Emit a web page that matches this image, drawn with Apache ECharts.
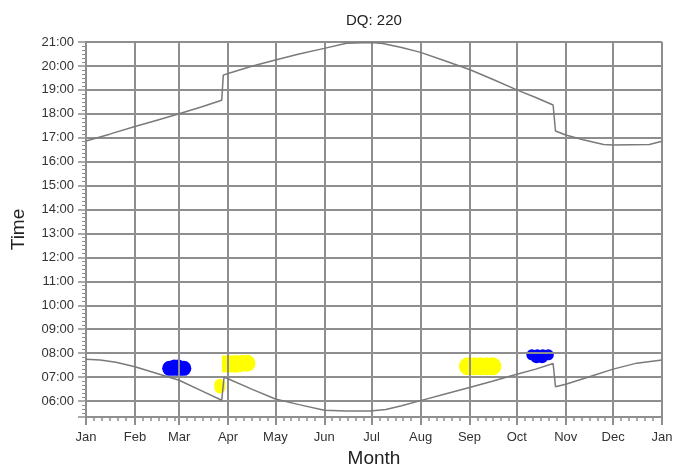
<!DOCTYPE html>
<html><head><meta charset="utf-8">
<script src="https://cdn.jsdelivr.net/npm/echarts@6/dist/echarts.min.js"></script>
<style>html,body{margin:0;padding:0;background:#fff}#c{width:676px;height:473px}</style>
</head><body><div id="c"></div>
<script>
const chartTitle = 'DQ: 220';
const xAxisName = 'Month';
const yAxisName = 'Time';
const monthLabels = ['Jan','Feb','Mar','Apr','May','Jun','Jul','Aug','Sep','Oct','Nov','Dec','Jan'];
const monthStartDays = [0,31,59,90,120,151,181,212,243,273,304,334,365];

// sunset (upper line) — day of year, local time
const sunsetDays  = [0, 15, 31, 45, 59, 73, 86, 87, 90, 105, 120, 135, 151, 165, 181, 188, 200, 212, 226, 243, 258, 273, 285, 296, 297.5, 304, 315, 328, 334, 357, 365];
const sunsetTimes = ['16:52','17:09','17:28','17:44','18:00','18:17','18:34','19:37','19:41','19:59','20:15','20:30','20:44','20:57','20:59','20:56','20:46','20:34','20:15','19:51','19:26','19:00','18:41','18:22','17:17','17:07','16:55','16:43','16:42','16:43','16:51'];

// sunrise (lower line)
const sunriseDays  = [0, 9, 19, 31, 45, 59, 73, 86, 87.5, 90, 105, 120, 135, 151, 165, 180, 190, 200, 212, 227, 243, 258, 273, 285, 296, 297.5, 304, 319, 334, 349, 365];
const sunriseTimes = ['7:45','7:43','7:37','7:26','7:09','6:52','6:26','6:02','7:00','6:56','6:30','6:05','5:51','5:37','5:35','5:35','5:39','5:48','6:01','6:17','6:34','6:50','7:07','7:20','7:34','6:36','6:42','7:01','7:20','7:35','7:43'];

// glare spots (blue)
const blueMarDays  = [53, 56, 59, 62];
const blueMarTimes = ['7:22','7:22','7:22','7:22'];
const blueMarTopDays  = [56, 58.5];
const blueMarTopTimes = ['7:28','7:28'];
const blueOctDays  = [282.5, 286, 289.5, 293];
const blueOctTimes = ['7:56','7:56','7:56','7:56'];
const blueOctLowDays  = [285.5, 289];
const blueOctLowTimes = ['7:50','7:50'];
// glare spots (yellow)
const yellowAprEdgeDays  = [91.5];
const yellowAprEdgeTimes = ['7:33'];
const yellowAprDays  = [95, 98.5, 102];
const yellowAprTimes = ['7:33','7:34','7:35'];
const yellowSmallDays  = [84.8, 84.8];
const yellowSmallTimes = ['6:42','6:33'];
const yellowSepDays  = [242, 246, 250, 254, 257.5];
const yellowSepTimes = ['7:27','7:27','7:27','7:27','7:27'];

function toHours(s){ const p = s.split(':'); return +p[0] + (+p[1])/60; }
function pairs(days, times){ return days.map((d,i)=>[d, toHours(times[i])]); }

const minorDays = [];
for (let i = 0; i < monthStartDays.length - 1; i++) {
  for (let k = 5; k <= 25; k += 5) minorDays.push(monthStartDays[i] + k);
}

const FONT = '"Liberation Sans", Arial, sans-serif';
const GRID_COLOR = '#8e8e8e';
const BLUE = '#0000ff', YELLOW = '#ffff00';
function blob(data, size, color, symbol){
  return { type: 'scatter', z: -1, data: data, symbol: symbol || 'circle', symbolSize: size,
           itemStyle: { color: color, opacity: 1 }, emphasis: { disabled: true } };
}
const chart = echarts.init(document.getElementById('c'), null, {renderer:'canvas'});
chart.setOption({
  animation: false,
  backgroundColor: '#fff',
  title: { text: chartTitle, left: 341, top: 8, textStyle: { fontFamily: FONT, fontSize: 15, fontWeight: 'normal', color: '#222' } },
  grid: { left: 86, right: 14, top: 42, bottom: 56 },
  xAxis: [{
    type: 'value', min: 0, max: 365, position: 'bottom',
    name: xAxisName, nameLocation: 'middle', nameGap: 32,
    nameTextStyle: { fontFamily: FONT, fontSize: 19, color: '#222' },
    axisLine: { show: true, lineStyle: { color: GRID_COLOR, width: 2 } },
    axisTick: { show: true, length: 8, customValues: monthStartDays, lineStyle: { color: GRID_COLOR, width: 2 } },
    axisLabel: { customValues: monthStartDays, margin: 14, fontFamily: FONT, fontSize: 13, color: '#333',
      formatter: v => monthLabels[monthStartDays.indexOf(v)] },
    splitLine: { show: true, lineStyle: { color: GRID_COLOR, width: 2 } }
  }, {
    type: 'value', min: 0, max: 365, position: 'bottom', offset: 0, gridIndex: 0,
    axisLine: { show: false },
    axisTick: { show: true, length: 4, customValues: minorDays, lineStyle: { color: GRID_COLOR, width: 1.5 } },
    axisLabel: { show: false },
    splitLine: { show: false }
  }],
  yAxis: {
    type: 'value', min: 5 + 20/60, max: 21, splitNumber: 15,
    name: yAxisName, nameLocation: 'middle', nameGap: 58,
    nameTextStyle: { fontFamily: FONT, fontSize: 19, color: '#222' },
    axisLine: { show: true, lineStyle: { color: GRID_COLOR, width: 2 } },
    axisTick: { show: true, length: 8, lineStyle: { color: GRID_COLOR, width: 1.5 } },
    minorTick: { show: true, splitNumber: 6, length: 4, lineStyle: { color: GRID_COLOR, width: 1 } },
    axisLabel: { margin: 12, fontFamily: FONT, fontSize: 13, color: '#333',
      formatter: v => Number.isInteger(v) ? String(v).padStart(2,'0') + ':00' : '' },
    splitLine: { show: true, lineStyle: { color: GRID_COLOR, width: 2 } }
  },
  series: [
    blob(pairs(blueMarDays, blueMarTimes), 15, BLUE),
    blob(pairs(blueMarTopDays, blueMarTopTimes), 13, BLUE),
    blob(pairs(blueOctDays, blueOctTimes), 11, BLUE),
    blob(pairs(blueOctLowDays, blueOctLowTimes), 12, BLUE),
    blob(pairs(yellowAprEdgeDays, yellowAprEdgeTimes), 17, YELLOW, 'rect'),
    blob(pairs(yellowAprDays, yellowAprTimes), 17, YELLOW),
    blob(pairs(yellowSmallDays, yellowSmallTimes), 11, YELLOW),
    blob(pairs(yellowSepDays, yellowSepTimes), 18, YELLOW),
    { type: 'line', data: pairs(sunsetDays, sunsetTimes), showSymbol: false, lineStyle: { color: '#7a7a7a', width: 1.5 } },
    { type: 'line', data: pairs(sunriseDays, sunriseTimes), showSymbol: false, lineStyle: { color: '#7a7a7a', width: 1.5 } }
  ]
});
</script>
</body></html>
